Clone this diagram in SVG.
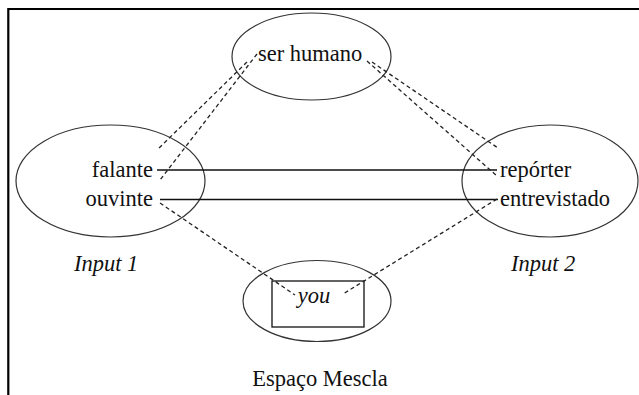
<svg xmlns="http://www.w3.org/2000/svg" width="639" height="395" viewBox="0 0 639 395">
  <style>
    .space { fill: none; stroke: #333; stroke-width: 1.2; }
    .label { font-size: 22.5px; fill: #111; }
    .it { font-style: italic; }
    .map { stroke: #111; stroke-width: 1.3; fill: none; }
    .dash { stroke: #222; stroke-width: 1.3; fill: none; stroke-dasharray: 4 3; }
  </style>
  <rect width="639" height="395" fill="#fff"/>
  <!-- frame -->
  <path d="M8.3,395 V9 H639" fill="none" stroke="#000" stroke-width="2.2"/>

  <g font-family="Liberation Serif, Tinos, DejaVu Serif, serif">
    <g id="generic">
      <ellipse class="space" cx="311.5" cy="56.5" rx="79.5" ry="43.5"/>
      <text class="label" x="258" y="61">ser humano</text>
    </g>

    <g id="input1">
      <ellipse class="space" cx="110.5" cy="181" rx="94.5" ry="56"/>
      <text class="label" x="153" y="177" text-anchor="end">falante</text>
      <text class="label" x="153" y="206" text-anchor="end">ouvinte</text>
      <text class="label it" x="74" y="271">Input 1</text>
    </g>

    <g id="input2">
      <ellipse class="space" cx="550" cy="181" rx="88" ry="56"/>
      <text class="label" x="500" y="177">repórter</text>
      <text class="label" x="500" y="206">entrevistado</text>
      <text class="label it" x="511" y="271">Input 2</text>
    </g>

    <g id="blend">
      <ellipse class="space" cx="317" cy="301" rx="74" ry="40.5"/>
      <rect x="272" y="281" width="92" height="46" fill="none" stroke="#111" stroke-width="1.3"/>
      <text class="label it" x="314" y="303" text-anchor="middle">you</text>
      <text class="label" x="320" y="386" text-anchor="middle">Espaço Mescla</text>
    </g>
  </g>

  <g id="connectors">
    <!-- cross-space mappings -->
    <line class="map" x1="157" y1="170" x2="497" y2="170"/>
    <line class="map" x1="160" y1="199.5" x2="498" y2="199.5"/>
    <!-- generic space to inputs -->
    <line class="dash" x1="247" y1="62" x2="157" y2="150"/>
    <line class="dash" x1="257" y1="54" x2="160" y2="180"/>
    <line class="dash" x1="372" y1="62" x2="498" y2="148"/>
    <line class="dash" x1="367" y1="61" x2="497" y2="176"/>
    <!-- inputs to blend -->
    <line class="dash" x1="160" y1="203" x2="295" y2="295"/>
    <line class="dash" x1="497" y1="199" x2="343" y2="294"/>
  </g>
</svg>
